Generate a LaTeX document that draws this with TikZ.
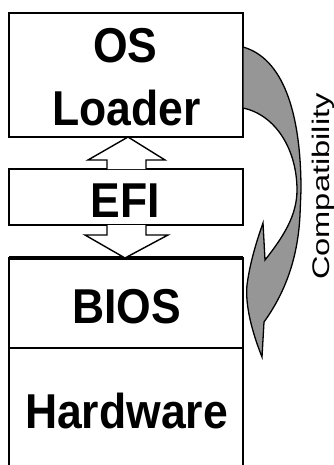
\documentclass[tikz,border=0pt]{standalone}
\usepackage{fontspec}
\setmainfont{Liberation Sans}
\definecolor{arrowgray}{RGB}{150,150,150}
\begin{document}
\begin{tikzpicture}[x=1pt,y=-1pt,
  layer/.style={draw=black,line width=1.5pt,fill=white},
  lbl/.style={anchor=base,inner sep=0pt,font=\bfseries\fontsize{44.5pt}{44.5pt}\selectfont},
  hollow/.style={draw=black,line width=1.4pt,fill=white,line join=miter}]
\useasboundingbox (0,0) rectangle (334,465);
% boxes
\draw[layer] (9,13) rectangle (243,137);
\draw[line width=2.5pt] (9,13) -- (243,13);
\draw[layer] (9,169) rectangle (243,225);
\draw[layer] (9,258) rectangle (243,348);
\draw[line width=3.5pt] (9,258) -- (243,258);
\draw[layer] (9,466) -- (9,348) -- (243,348) -- (243,466);
% labels
\node[lbl] (os) at (125.5,63) {\scalebox{1}[1.1]{OS}};
\node[lbl] (loader) at (126.5,126) {\scalebox{1}[1.1]{Loader}};
\node[lbl] (efi) at (125.5,217) {\scalebox{1}[1.1]{EFI}};
\node[lbl] (bios) at (126.5,323) {\scalebox{1}[1.1]{BIOS}};
\node[lbl] (hw) at (126.5,428) {\scalebox{1}[1.1]{Hardware}};
% hollow arrows
\draw[hollow] (107,169) -- (107,160) -- (88,160) -- (128,137) -- (165,160) -- (146,160) -- (146,169);
\draw[hollow] (107,225) -- (107,235) -- (85,235) -- (125,258) -- (168,235) -- (146,235) -- (146,225);
% curved compatibility arrow
\draw[fill=arrowgray,draw=black,line width=1.3pt,line join=miter]
  (243,47) .. controls (282,58) and (301,110) .. (301,190)
  -- (300,215) .. controls (298,255) and (287,290) .. (264,322)
  -- (262,357)
  .. controls (252,332) and (245,305) .. (247,285)
  .. controls (250,262) and (257,240) .. (263,223)
  -- (265,260)
  .. controls (284,236) and (297,215) .. (297,190)
  .. controls (297,150) and (276,115) .. (243,108) -- cycle;
\node[anchor=base,rotate=90,inner sep=0pt,font=\fontsize{24pt}{24pt}\selectfont] (compat) at (329,186.5) {\scalebox{1.36}[1]{Compatibility}};
\end{tikzpicture}
\end{document}
